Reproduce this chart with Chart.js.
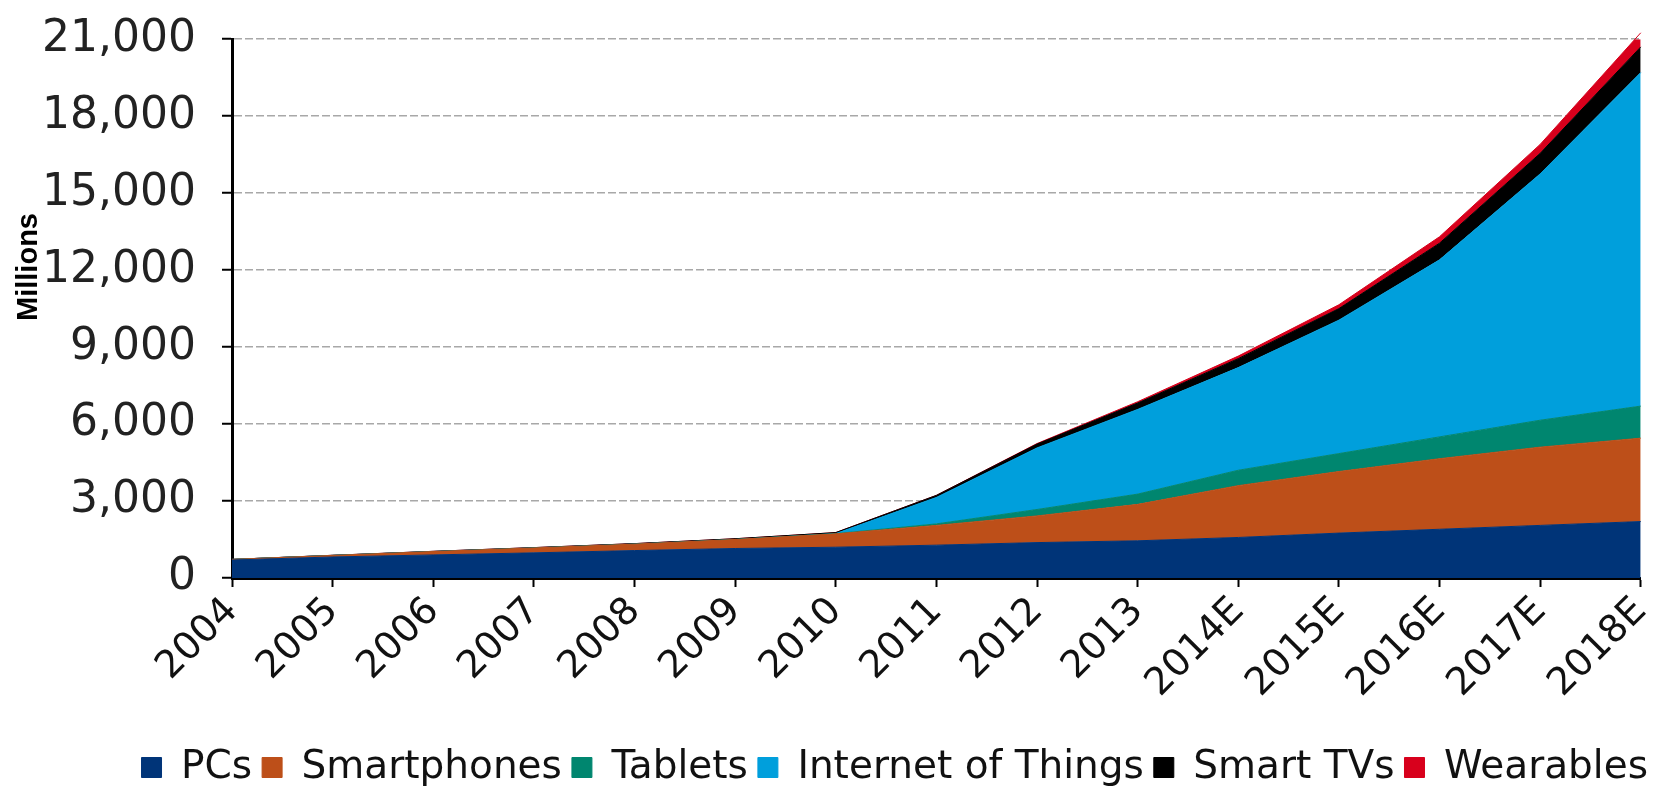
<!DOCTYPE html>
<html>
<head>
<meta charset="utf-8">
<script src="https://cdn.jsdelivr.net/npm/chart.js@4.4.1/dist/chart.umd.min.js"></script>
<style>
    html, body { margin: 0; padding: 0; background: #ffffff; }
    #contenedor { width: 1675px; height: 791px; position: relative; }
</style>
</head>
<body>
<div id="contenedor"><canvas id="grafico-dispositivos"></canvas></div>
<script>
    // Datos (millones de dispositivos, apilados)
    var ANIOS = ["2004", "2005", "2006", "2007", "2008", "2009", "2010", "2011", "2012", "2013",
                 "2014E", "2015E", "2016E", "2017E", "2018E"];
    var PCS         = [700, 820, 900, 980, 1070, 1150, 1200, 1280, 1380, 1450, 1580, 1750, 1900, 2050, 2200];
    var SMARTPHONES = [25, 60, 130, 190, 250, 350, 520, 770, 1040, 1420, 2020, 2400, 2750, 3050, 3250];
    var TABLETS     = [0, 0, 0, 0, 0, 0, 10, 60, 250, 400, 600, 700, 850, 1050, 1250];
    var IOT         = [0, 0, 0, 0, 0, 0, 0, 1030, 2400, 3300, 4000, 5200, 6900, 9600, 13000];
    var SMART_TVS   = [0, 5, 10, 15, 20, 30, 40, 80, 150, 250, 350, 450, 650, 800, 1000];
    var WEARABLES   = [0, 0, 0, 0, 0, 0, 0, 0, 20, 50, 100, 150, 250, 350, 550];
    var SERIES      = ["PCs", "Smartphones", "Tablets", "Internet of Things", "Smart TVs", "Wearables"];
    var Y_TICKS     = [0, 3000, 6000, 9000, 12000, 15000, 18000, 21000];
    var TITULO_Y    = "Millions";

    var COLORES = ["#003478", "#bd4f19", "#00866f", "#009fdc", "#000000", "#d8001c"];
    var FUENTE = "'DejaVu Sans', Verdana, sans-serif";
    var FUENTE_TITULO = "'Liberation Sans', Arial, sans-serif";

    function formatoMiles(v) {
        return String(v).replace(/\B(?=(\d{3})+(?!\d))/g, ",");
    }

    // Titulo del eje Y dibujado a mano: en el original no esta centrado en el eje
    var tituloEjeY = {
        id: "tituloEjeY",
        afterDraw: function (chart) {
            var ctx = chart.ctx;
            ctx.save();
            ctx.translate(29, 267);
            ctx.rotate(-Math.PI / 2);
            ctx.fillStyle = "#000000";
            ctx.font = "bold 29px " + FUENTE_TITULO;
            ctx.textAlign = "center";
            ctx.textBaseline = "middle";
            ctx.fillText(TITULO_Y, 0, 0);
            ctx.restore();
        }
    };

    var valores = [PCS, SMARTPHONES, TABLETS, IOT, SMART_TVS, WEARABLES];
    var datasets = SERIES.map(function (nombre, i) {
        return {
            label: nombre,
            data: valores[i],
            backgroundColor: COLORES[i],
            borderColor: COLORES[i],
            borderWidth: 1,
            pointRadius: 0,
            tension: 0,
            fill: i === 0 ? "origin" : "-1",
            clip: false
        };
    });

    new Chart(document.getElementById("grafico-dispositivos").getContext("2d"), {
        type: "line",
        data: { labels: ANIOS, datasets: datasets },
        plugins: [tituloEjeY],
        options: {
            responsive: true,
            maintainAspectRatio: false,
            animation: false,
            layout: { autoPadding: false, padding: { left: 0, right: 17, top: 38, bottom: -6 } },
            plugins: {
                legend: {
                    position: "bottom",
                    align: "end",
                    labels: {
                        color: "#111111",
                        font: { family: FUENTE, size: 39 },
                        boxWidth: 20,
                        boxHeight: 20,
                        padding: 10
                    }
                },
                tooltip: { enabled: false }
            },
            scales: {
                x: {
                    offset: false,
                    grid: { drawOnChartArea: false, drawTicks: true, tickLength: 9, tickColor: "#000000", color: "#000000", tickWidth: 2 },
                    border: { display: true, color: "#000000", width: 3 },
                    ticks: { color: "#111111", font: { family: FUENTE, size: 38 }, maxRotation: 45, minRotation: 45, padding: 2, autoSkip: false },
                    afterFit: function (escala) { escala.height = 160; }
                },
                y: {
                    stacked: true,
                    min: 0,
                    max: 21000,
                    afterBuildTicks: function (escala) {
                        escala.ticks = Y_TICKS.map(function (v) { return { value: v }; });
                    },
                    afterFit: function (escala) { escala.width = 232; },
                    grid: { color: "#a8a8a8", lineWidth: 1.5, tickLength: 10, tickColor: "#000000", tickWidth: 2 },
                    border: { display: true, color: "#000000", width: 3, dash: [8, 3] },
                    ticks: {
                        color: "#222222",
                        font: { family: FUENTE, size: 44, lineHeight: 0.6 },
                        padding: 26,
                        callback: function (v) { return formatoMiles(v); }
                    }
                }
            }
        }
    });
</script>
</body>
</html>
